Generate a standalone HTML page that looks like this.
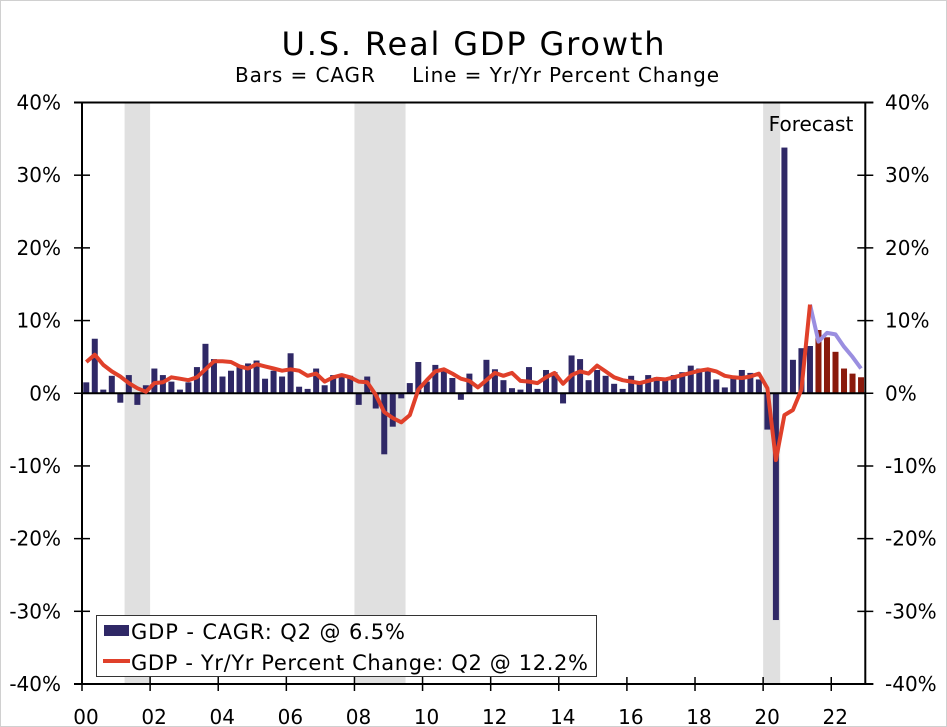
<!DOCTYPE html>
<html><head><meta charset="utf-8"><style>
html,body{margin:0;padding:0;background:#fff;}
svg{display:block;font-family:"DejaVu Sans","Liberation Sans",sans-serif;}
</style></head><body>
<svg id="chart" width="947" height="727" viewBox="0 0 947 727">
<rect x="0.5" y="0.5" width="946" height="726" fill="#fff" stroke="#d0d0d0"/>
<text x="473" y="55" font-size="32" text-anchor="middle" textLength="383">U.S. Real GDP Growth</text>
<text x="477" y="82" font-size="20" text-anchor="middle" textLength="484" xml:space="preserve">Bars = CAGR     Line = Yr/Yr Percent Change</text>
<g id="shade"></g>
<g id="bars"></g>
<g id="lines"></g>
<g id="axes"></g>
<text x="811" y="131" font-size="20" text-anchor="middle">Forecast</text>
<g>
<rect x="96.5" y="615.5" width="500" height="61" fill="#fff" stroke="#333"/>
<rect x="104" y="625" width="25" height="11" fill="#2f2866"/>
<text x="131" y="639" font-size="21" textLength="274">GDP - CAGR: Q2 @ 6.5%</text>
<line x1="103" y1="661" x2="130" y2="661" stroke="#e0402a" stroke-width="4"/>
<text x="131" y="670" font-size="21" textLength="457">GDP - Yr/Yr Percent Change: Q2 @ 12.2%</text>
</g>
</svg>
<script>
const cagr = [1.5,7.5,0.5,2.4, -1.3,2.5,-1.6,1.1, 3.4,2.5,1.6,0.5, 1.5,3.6,6.8,4.7, 2.3,3.1,3.8,4.1, 4.5,2.0,3.1,2.3, 5.5,0.9,0.6,3.4, 1.1,2.5,2.5,2.4, -1.6,2.3,-2.1,-8.4, -4.6,-0.7,1.4,4.3, 1.6,3.9,3.4,2.1, -0.9,2.7,0.0,4.6, 3.3,1.8,0.7,0.5, 3.6,0.6,3.2,2.9, -1.4,5.2,4.7,1.8, 3.2,2.4,1.3,0.6, 2.4,1.4,2.5,2.2, 2.0,2.5,2.9,3.8, 3.4,3.4,1.9,0.8, 2.3,3.2,2.8,1.9, -5.0,-31.2,33.8,4.6, 6.2,6.5,8.7,7.7, 5.7,3.4,2.7,2.2];
const yoy = [4.3,5.3,3.9,3.0, 2.3,1.4,0.7,0.2, 1.4,1.5,2.2,2.0, 1.8,2.2,3.3,4.4, 4.4,4.3,3.7,3.4, 4.0,3.7,3.4,3.1, 3.3,3.1,2.4,2.7, 1.6,2.2,2.5,2.2, 1.6,1.5,-0.2,-2.6, -3.4,-4.0,-3.0,0.5, 1.8,3.0,3.3,2.7, 2.0,1.7,0.8,1.8, 2.8,2.4,2.8,1.7, 1.6,1.4,2.2,2.8, 1.3,2.5,3.0,2.7, 3.8,3.0,2.2,1.8, 1.6,1.4,1.7,2.0, 1.9,2.2,2.5,2.8, 3.1,3.3,3.0,2.4, 2.2,2.1,2.3,2.7, 0.7,-9.2,-3.0,-2.3, 0.5,12.2];
const yoyForecast = [12.2,7.1,8.3,8.1,6.4,5.0,3.4];
const forecastStart = 86;
const recessions = [[5,7],[32,37],[80,81]];
const yTicks = [40,30,20,10,0,-10,-20,-30,-40];
const xLabels = ["00","02","04","06","08","10","12","14","16","18","20","22"];

const NS="http://www.w3.org/2000/svg";
const X0=82, X1=865.3, Y40=102.5, Ym40=684;
const n=92, qw=(X1-X0)/n;
const xc=i=>X0+qw*(i+0.5);
const y=v=>Y40+(40-v)*(Ym40-Y40)/80;
function mk(tag,attrs,parent){const e=document.createElementNS(NS,tag);for(const k in attrs)e.setAttribute(k,attrs[k]);parent.appendChild(e);return e;}
const gS=document.getElementById('shade'),gB=document.getElementById('bars'),gL=document.getElementById('lines'),gA=document.getElementById('axes');

recessions.forEach(r=>{
  const e=mk('rect',{x:xc(r[0])-qw/2,y:Y40,width:(r[1]-r[0]+1)*qw,height:Ym40-Y40,fill:'#e0e0e0'},gS);
  
  
});
cagr.forEach((v,i)=>{
  const bw=6, y0=y(0), yv=y(v);
  const e=mk('rect',{x:xc(i)-bw/2,y:Math.min(y0,yv),width:bw,height:Math.abs(yv-y0),fill:i>=forecastStart?'#8a1a0c':'#2f2866'},gB);
  
  
});
const z=mk('line',{x1:X0,x2:X1,y1:y(0),y2:y(0),stroke:'#000','stroke-width':2},gB);



const fp=yoyForecast.map((v,k)=>xc(forecastStart-1+k).toFixed(1)+','+y(v).toFixed(1)).join(' ');
const pf=mk('polyline',{points:fp,fill:'none',stroke:'#9a8ee0','stroke-width':4,'stroke-linejoin':'round'},gL);


const lp=yoy.map((v,i)=>xc(i).toFixed(1)+','+y(v).toFixed(1)).join(' ');
const pl=mk('polyline',{points:lp,fill:'none',stroke:'#e0402a','stroke-width':4,'stroke-linejoin':'round'},gL);



const axL=mk('line',{x1:X0,x2:X0,y1:Y40,y2:Ym40,stroke:'#000','stroke-width':2},gA);


const axR=mk('line',{x1:X1,x2:X1,y1:Y40,y2:Ym40,stroke:'#000','stroke-width':2},gA);


const axT=mk('line',{x1:X0-8,x2:X1+8,y1:Y40,y2:Y40,stroke:'#000','stroke-width':2},gA);


const axB=mk('line',{x1:X0-8,x2:X1+8,y1:Ym40,y2:Ym40,stroke:'#000','stroke-width':2},gA);



yTicks.forEach(t=>{
  const yy=y(t);
  const a=mk('line',{x1:X0-8,x2:X0+8,y1:yy,y2:yy,stroke:'#000','stroke-width':1.5},gA);
  
  
  const b=mk('line',{x1:X1-8,x2:X1+8,y1:yy,y2:yy,stroke:'#000','stroke-width':1.5},gA);
  
  
  const l=mk('text',{x:61,y:yy+7,'font-size':20,'text-anchor':'end'},gA);
  l.textContent=t+'%';
  
  
  const r=mk('text',{x:885,y:yy+7,'font-size':20},gA);
  r.textContent=t+'%';
  
  
});
xLabels.forEach((s,k)=>{
  const xx=X0+qw*8*k;
  const t=mk('line',{x1:xx,x2:xx,y1:Ym40-7,y2:Ym40+7,stroke:'#000','stroke-width':1.5},gA);
  
  
  const l=mk('text',{x:xx+4,y:724,'font-size':20,'text-anchor':'middle'},gA);
  l.textContent=s;
  
  
});
</script>
</body></html>
